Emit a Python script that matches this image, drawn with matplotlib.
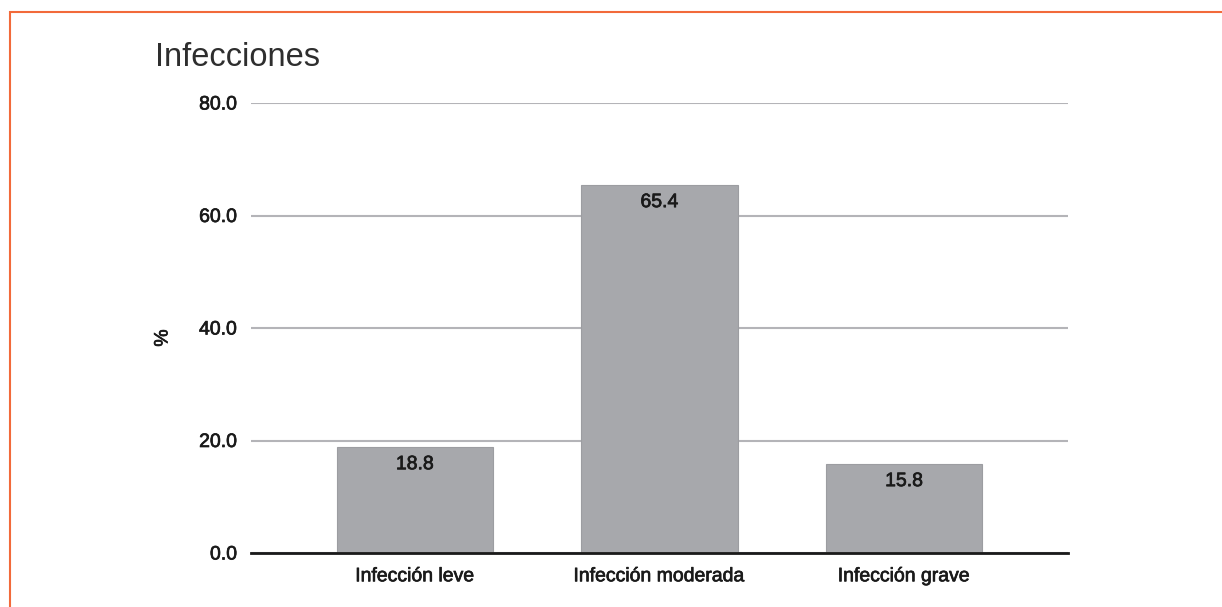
import matplotlib
matplotlib.use("Agg")
import matplotlib.pyplot as plt
import matplotlib.patheffects as pe
from matplotlib.patches import Rectangle

categories = ["Infección leve", "Infección moderada", "Infección grave"]
values = [18.8, 65.4, 15.8]
yticks = [0, 20, 40, 60, 80]
title = "Infecciones"
ylabel = "%"

plt.rcParams['font.family'] = ['Liberation Sans', 'DejaVu Sans']

W, H = 1222, 607
fig = plt.figure(figsize=(W/100, H/100), dpi=100)
ax = fig.add_axes([251/W, 1-553/H, (1068-251)/W, (553-103)/H])

heavy = [pe.withStroke(linewidth=0.5, foreground="#1a1a1a")]

x = list(range(len(categories)))
bars = ax.bar(x, values, width=0.64, color="#a7a8ac", edgecolor="#9c9da1", linewidth=0.8, zorder=3)
for xi, v in zip(x, values):
    ax.text(xi, v - 1.6, f"{v:.1f}", ha="center", va="top", fontsize=14, color="#1a1a1a",
            zorder=4, path_effects=heavy)

ax.set_xlim(-0.67, 2.67)
ax.set_ylim(0, 80)
ax.set_yticks(yticks)
ax.set_yticklabels([f"{t:.1f}" for t in yticks], fontsize=14, color="#1a1a1a")
ax.set_xticks(x)
ax.set_xticklabels(categories, fontsize=14, color="#1a1a1a")
for lbl in ax.get_xticklabels() + ax.get_yticklabels():
    lbl.set_path_effects(heavy)
ax.tick_params(axis="both", length=0)
ax.tick_params(axis="y", pad=10)
ax.tick_params(axis="x", pad=11)
ax.grid(axis="y", color="#b4b4b8", linewidth=1.5, zorder=0)
for s in ["top", "right", "left"]:
    ax.spines[s].set_visible(False)
ax.spines["bottom"].set_color("#1a1a1a")
ax.spines["bottom"].set_linewidth(2)
ax.spines["bottom"].set_zorder(5)

fig.text(155/W, 1-57/H, title, fontsize=23.5, color="#2e2e2e", ha="left", va="center")
fig.text(163/W, 1-338/H, ylabel, fontsize=14, color="#1a1a1a", rotation=90, ha="center",
         va="center", path_effects=heavy)

fig.patches.append(Rectangle((10/W, -0.1), 1.2, 1-12/H+0.1, transform=fig.transFigure,
                             fill=False, edgecolor="#f26a3a", linewidth=1.5, figure=fig))

fig.savefig("out.png", dpi=100)
